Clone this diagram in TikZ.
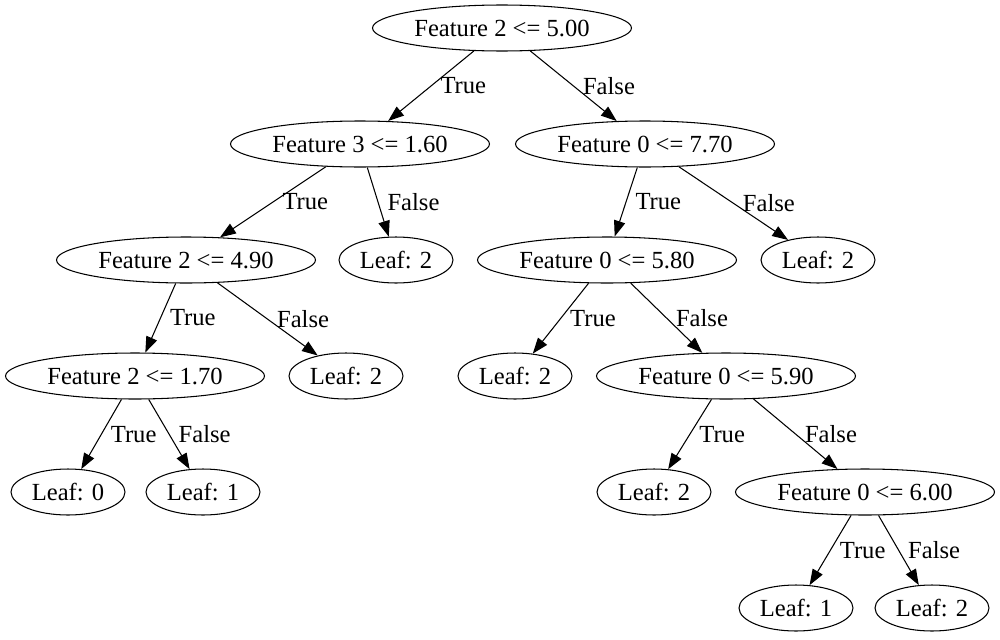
\documentclass[tikz,border=0pt]{standalone}
\usepackage{fontspec}
\setmainfont{Liberation Serif}
\usetikzlibrary{shapes.geometric, arrows.meta}

\begin{document}
\begin{tikzpicture}[x=0.02cm, y=-0.02cm, line width=0.6pt,
    >={Triangle[length=9pt, width=6.5pt]}, font=\fontsize{14}{17}\selectfont]
  \tikzstyle{split}=[ellipse, draw, minimum width=5.18cm, minimum height=0.92cm, inner sep=0pt]
  \tikzstyle{leaf}=[ellipse, draw, minimum width=2.28cm, minimum height=0.92cm, inner sep=0pt]
  \tikzstyle{lbl}=[midway, anchor=west, xshift=0.18cm, inner sep=0pt]
  \useasboundingbox (0,0) rectangle (1000,639);

  \node[split] (T_r)  at (502,28)  {Feature 2 <= 5.00};
  \node[split] (T_a)  at (360,144) {Feature 3 <= 1.60};
  \node[split] (T_b)  at (645,144) {Feature 0 <= 7.70};
  \node[split] (T_c)  at (186,260) {Feature 2 <= 4.90};
  \node[leaf]  (L_1)  at (396,260) {Leaf: 2};
  \node[split] (T_d)  at (607,260) {Feature 0 <= 5.80};
  \node[leaf]  (L_2)  at (818,260) {Leaf: 2};
  \node[split] (T_e)  at (135,376) {Feature 2 <= 1.70};
  \node[leaf]  (L_3)  at (346,376) {Leaf: 2};
  \node[leaf]  (L_4)  at (515,376) {Leaf: 2};
  \node[split] (T_f)  at (726,376) {Feature 0 <= 5.90};
  \node[leaf]  (L_5)  at (68,492)  {Leaf: 0};
  \node[leaf]  (L_6)  at (203,492) {Leaf: 1};
  \node[leaf]  (L_7)  at (654,492) {Leaf: 2};
  \node[split] (T_g)  at (865,492) {Feature 0 <= 6.00};
  \node[leaf]  (L_8)  at (796,608) {Leaf: 1};
  \node[leaf]  (L_9)  at (932,608) {Leaf: 2};

  \draw[->] (T_r) -- node[lbl] {True}  (T_a);
  \draw[->] (T_r) -- node[lbl] {False} (T_b);
  \draw[->] (T_a) -- node[lbl] {True}  (T_c);
  \draw[->] (T_a) -- node[lbl] {False} (L_1);
  \draw[->] (T_b) -- node[lbl] {True}  (T_d);
  \draw[->] (T_b) -- node[lbl] {False} (L_2);
  \draw[->] (T_c) -- node[lbl] {True}  (T_e);
  \draw[->] (T_c) -- node[lbl] {False} (L_3);
  \draw[->] (T_d) -- node[lbl] {True}  (L_4);
  \draw[->] (T_d) -- node[lbl] {False} (T_f);
  \draw[->] (T_e) -- node[lbl] {True}  (L_5);
  \draw[->] (T_e) -- node[lbl] {False} (L_6);
  \draw[->] (T_f) -- node[lbl] {True}  (L_7);
  \draw[->] (T_f) -- node[lbl] {False} (T_g);
  \draw[->] (T_g) -- node[lbl] {True}  (L_8);
  \draw[->] (T_g) -- node[lbl] {False} (L_9);
\end{tikzpicture}
\end{document}
